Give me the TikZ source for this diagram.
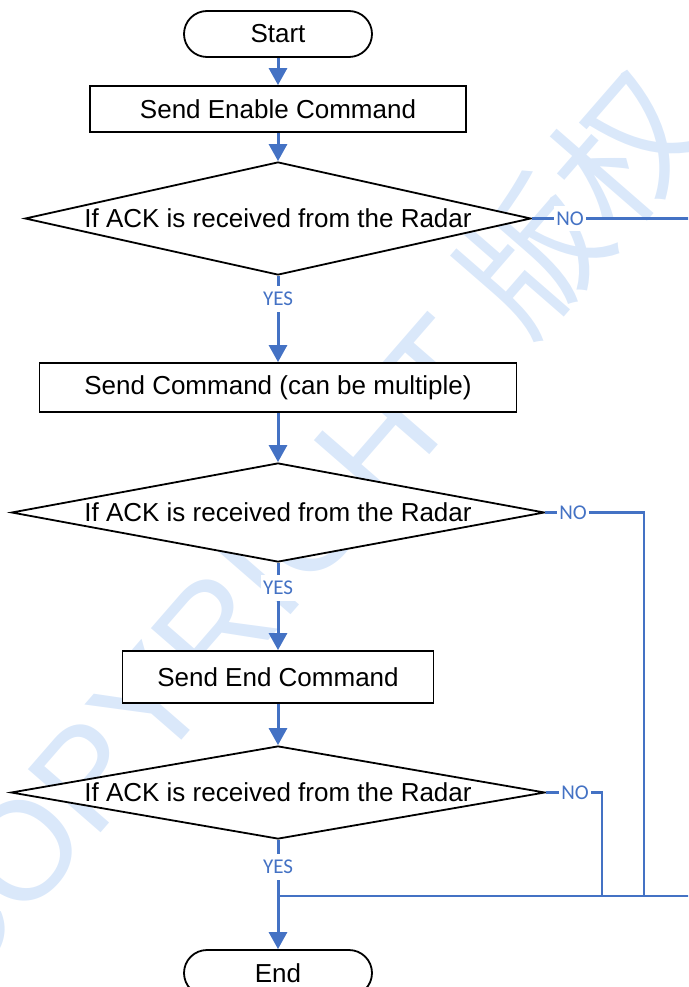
\documentclass[tikz,border=0pt]{standalone}
\usepackage{fontspec}
\setmainfont{Liberation Sans}
\newfontfamily\ynfont{Carlito}
\newfontfamily\cjkfont{Noto Sans CJK SC}
\usetikzlibrary{arrows.meta,shapes.geometric}
\definecolor{flowblue}{HTML}{4472C4}
\definecolor{markblue}{RGB}{218,232,250}

\begin{document}
\begin{tikzpicture}[x=1pt,y=1pt,
  outline/.style={draw=black, line width=1.8pt, fill=white},
  boxtext/.style={font=\fontsize{26}{30}\selectfont},
  terminal/.style={outline, boxtext, rectangle, rounded corners=23pt,
    minimum width=188pt, minimum height=46pt, inner sep=0pt},
  process/.style={outline, boxtext, rectangle, inner sep=0pt},
  decision/.style={outline, diamond, inner sep=0pt},
  flow/.style={draw=flowblue, line width=3pt, -{Triangle[width=18pt,length=17pt]}},
  branch/.style={draw=flowblue, line width=2.4pt},
  yn/.style={font=\ynfont\fontsize{21}{24}\selectfont, text=flowblue,
    fill=white, inner xsep=2pt, inner ysep=6pt},
  wmark/.style={font=\fontsize{140}{150}\selectfont, text=markblue,
    inner sep=0pt},
]
\useasboundingbox (0,0) rectangle (688,-987);
\clip (0,0) rectangle (688,-987);

% background watermark
\node[wmark, anchor=base west, rotate=49] (wm) at (-44,-1000)
  {COPYRIGHT {\cjkfont 版权}};

% shapes
\node[terminal] (start) at (278,-34) {Start};
\node[process, minimum width=376pt, minimum height=46pt] (box1) at (278,-109) {Send Enable Command};
\node[decision, minimum width=506pt, minimum height=113pt] (d1) at (278,-218.5) {};
\node[boxtext] (d1t) at (d1) {If ACK is received from the Radar};
\node[process, minimum width=477pt, minimum height=49pt] (box2) at (278,-387.5) {Send Command (can be multiple)};
\node[decision, minimum width=533pt, minimum height=99pt] (d2) at (278,-512.5) {};
\node[boxtext] (d2t) at (d2) {If ACK is received from the Radar};
\node[process, minimum width=311pt, minimum height=52pt] (box3) at (278,-677) {Send End Command};
\node[decision, minimum width=534pt, minimum height=93pt] (d3) at (278,-792.5) {};
\node[boxtext] (d3t) at (d3) {If ACK is received from the Radar};
\node[terminal] (end) at (278,-973) {End};

% junction points of the NO branches
\coordinate (jm) at (278,-896);
\coordinate (j1) at (702,-896);
\coordinate (j2) at (644,-896);
\coordinate (j3) at (602,-896);

% main flow
\draw[flow] (start) -- (box1);
\draw[flow] (box1) -- (d1);
\draw[flow] (d1) -- (box2);
\draw[flow] (box2) -- (d2);
\draw[flow] (d2) -- (box3);
\draw[flow] (box3) -- (d3);
\draw[flow] (d3) -- (end);

% NO branches
\draw[branch] (d1.east) -| (j1);
\draw[branch] (d2.east) -| (j2);
\draw[branch] (d3.east) -| (j3);
\draw[draw=flowblue, line width=2.8pt] (j1) -- (jm);

% branch labels
\node[yn] (yes1) at (278,-299) {YES};
\node[yn] (yes2) at (278,-588) {YES};
\node[yn] (yes3) at (278,-867) {YES};
\node[yn] (no1) at (570,-218.5) {NO};
\node[yn] (no2) at (573,-512.5) {NO};
\node[yn] (no3) at (575,-792.5) {NO};
\end{tikzpicture}
\end{document}
